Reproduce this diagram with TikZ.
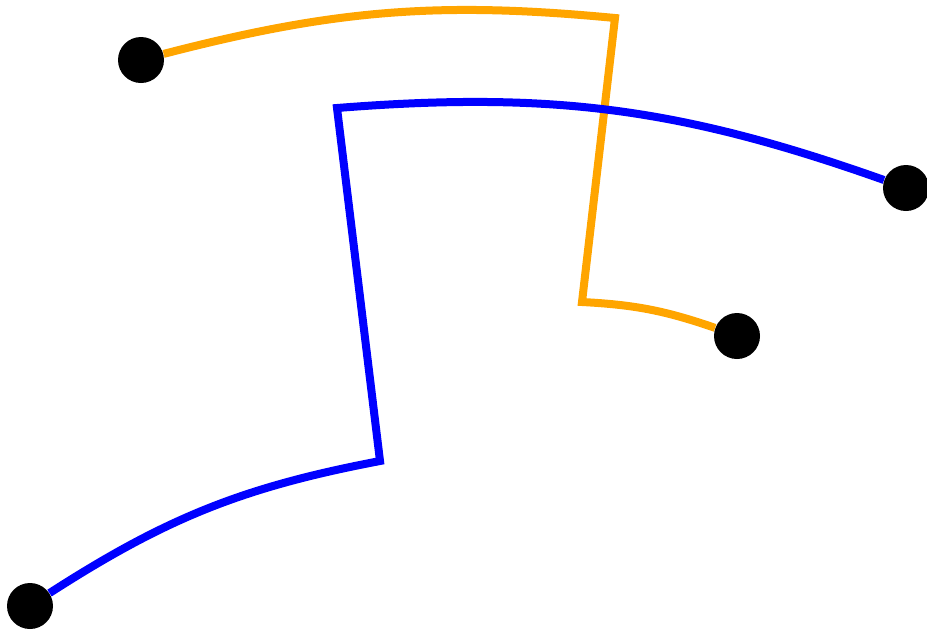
\documentclass[tikz,border=0pt]{standalone}
\usetikzlibrary{positioning}
\definecolor{weborange}{HTML}{FFA500}

\begin{document}
\begin{tikzpicture}[
  x=0.5pt,y=-0.5pt,
  dot/.style={circle,fill=black,minimum size=23pt,inner sep=0pt},
  wire/.style={line width=4pt,line join=miter}
]
\useasboundingbox (0,0) rectangle (927,633);
% end points
\node[dot] (oa) at (141,60) {};
\node[dot] (ob) at (737,336) {};
\node[dot] (ba) at (30,606) {};
\node[dot] (bb) at (906,188) {};
% corners
\coordinate (o1) at (615,18);
\coordinate (o2) at (582,302);
\coordinate (b1) at (380,461);
\coordinate (b2) at (337,108);
% orange route
\draw[wire,weborange] (oa) to[bend left=10] (o1) -- (o2) to[bend left=8] (ob);
% blue route
\draw[wire,blue] (ba) to[bend left=11] (b1) -- (b2) to[bend left=12] (bb);
\end{tikzpicture}
\end{document}
